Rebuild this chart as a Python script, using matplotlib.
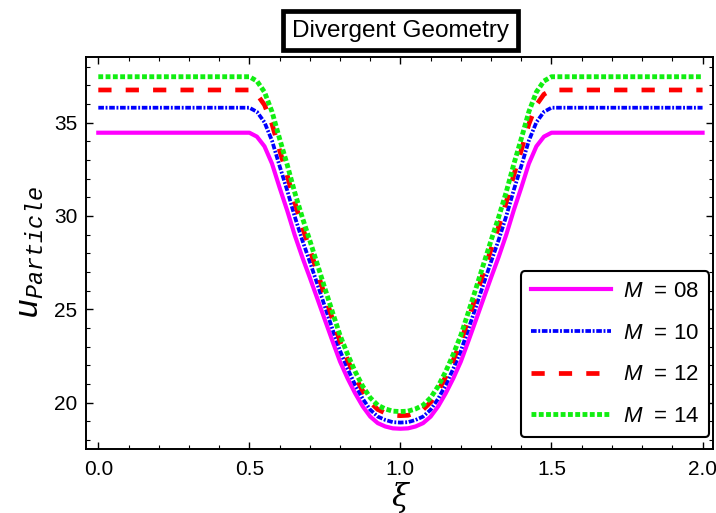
import matplotlib
matplotlib.use("Agg")
import matplotlib.pyplot as plt
from matplotlib.ticker import MultipleLocator

plt.rcParams['mathtext.fontset'] = 'custom'
plt.rcParams['mathtext.it'] = 'Liberation Mono:italic'
plt.rcParams['mathtext.rm'] = 'Liberation Mono'
plt.rcParams['mathtext.sf'] = 'Liberation Sans:italic'
plt.rcParams['font.family'] = ['Liberation Sans', 'DejaVu Sans']

xi = [0.0, 0.5, 0.525, 0.55, 0.575, 0.6, 0.625, 0.65, 0.675, 0.7, 0.725, 0.75,
      0.775, 0.8, 0.825, 0.85, 0.875, 0.9, 0.925, 0.95, 0.975, 1.0,
      1.025, 1.05, 1.075, 1.1, 1.125, 1.15, 1.175, 1.2, 1.225, 1.25, 1.275,
      1.3, 1.325, 1.35, 1.375, 1.4, 1.425, 1.45, 1.475, 1.5, 2.0]

u_M08 = [34.46, 34.46, 34.25, 33.73, 32.80, 31.52, 30.30, 28.98, 27.80, 26.70, 25.57, 24.43,
         23.30, 22.20, 21.30, 20.50, 19.80, 19.25, 18.90, 18.72, 18.62, 18.60,
         18.62, 18.72, 18.90, 19.25, 19.80, 20.50, 21.30, 22.20, 23.30, 24.43, 25.57,
         26.70, 27.80, 28.98, 30.30, 31.52, 32.80, 33.73, 34.25, 34.46, 34.46]

u_M10 = [35.80, 35.80, 35.58, 35.02, 34.03, 32.68, 31.38, 29.98, 28.71, 27.55, 26.35, 25.14,
         23.94, 22.78, 21.82, 20.95, 20.21, 19.62, 19.25, 19.07, 18.95, 18.93,
         18.95, 19.07, 19.25, 19.62, 20.21, 20.95, 21.82, 22.78, 23.94, 25.14, 26.35,
         27.55, 28.71, 29.98, 31.38, 32.68, 34.03, 35.02, 35.58, 35.80, 35.80]

u_M12 = [36.75, 36.75, 36.52, 35.95, 34.92, 33.52, 32.18, 30.73, 29.42, 28.22, 26.98, 25.72,
         24.48, 23.28, 22.28, 21.39, 20.63, 20.02, 19.63, 19.44, 19.32, 19.30,
         19.32, 19.44, 19.63, 20.02, 20.63, 21.39, 22.28, 23.28, 24.48, 25.72, 26.98,
         28.22, 29.42, 30.73, 32.18, 33.52, 34.92, 35.95, 36.52, 36.75, 36.75]

u_M14 = [37.46, 37.46, 37.23, 36.64, 35.58, 34.14, 32.76, 31.27, 29.93, 28.69, 27.41, 26.12,
         24.85, 23.61, 22.59, 21.67, 20.88, 20.26, 19.86, 19.66, 19.54, 19.52,
         19.54, 19.66, 19.86, 20.26, 20.88, 21.67, 22.59, 23.61, 24.85, 26.12, 27.41,
         28.69, 29.93, 31.27, 32.76, 34.14, 35.58, 36.64, 37.23, 37.46, 37.46]

labels = ["08", "10", "12", "14"]
x_ticks = [0.0, 0.5, 1.0, 1.5, 2.0]
y_ticks = [20, 25, 30, 35]

fig = plt.figure(figsize=(7.16, 5.13), dpi=100)
ax = fig.add_axes([0.120, 0.125, 0.876, 0.764])

ax.plot(xi, u_M08, color='#ff00ff', lw=3.0, ls='-', label=r"$\mathsf{M}$  = " + labels[0])
ax.plot(xi, u_M10, color='#0000ff', lw=2.7, ls=(0, (1.5, 0.45, 0.5, 0.45)),
        dash_capstyle='butt', label=r"$\mathsf{M}$  = " + labels[1])
ax.plot(xi, u_M12, color='#ff0000', lw=3.4, ls=(0, (2.8, 3.0)),
        dash_capstyle='butt', label=r"$\mathsf{M}$  = " + labels[2])
ax.plot(xi, u_M14, color='#11ee11', lw=3.5, ls=(0, (1.0, 0.5)),
        dash_capstyle='butt', label=r"$\mathsf{M}$  = " + labels[3])

ax.set_xlim(-0.041, 2.035)
ax.set_ylim(17.52, 38.52)
ax.set_xticks(x_ticks)
ax.set_xticklabels([f"{v:.1f}" for v in x_ticks])
ax.set_yticks(y_ticks)
ax.xaxis.set_minor_locator(MultipleLocator(0.1))
ax.yaxis.set_minor_locator(MultipleLocator(1))
ax.tick_params(which='both', direction='in', top=True, right=True, labelsize=15)
ax.tick_params(axis='x', which='major', pad=8)
ax.tick_params(axis='y', which='major', pad=6)
ax.tick_params(which='major', length=5, width=1.0)
ax.tick_params(which='minor', length=3, width=0.8)
for s in ax.spines.values():
    s.set_linewidth(1.4)

ax.set_xlabel("ξ", family='DejaVu Serif', style='italic', fontsize=22, labelpad=2)
ax.set_ylabel(r"$u_{Particle}$", fontsize=24, labelpad=6)

leg = ax.legend(loc='lower right', bbox_to_anchor=(0.9936, 0.03), fontsize=16,
                handlelength=3.6, handletextpad=0.55, labelspacing=0.93,
                borderpad=0.45, borderaxespad=0.0, frameon=True, fancybox=True, framealpha=1)
leg.get_frame().set_edgecolor('black')
leg.get_frame().set_linewidth(1.5)

fig.text(0.5594, 0.9405, "Divergent Geometry", fontsize=17.5, ha='center', va='center',
         bbox=dict(boxstyle='square,pad=0.36', fc='white', ec='black', lw=3.4))

fig.savefig("out.png", dpi=100)
